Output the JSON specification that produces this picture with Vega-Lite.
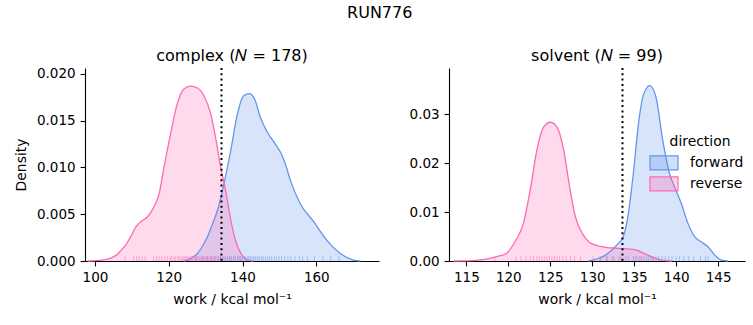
{
  "$schema": "https://vega.github.io/schema/vega-lite/v6.json",
  "padding": {"left": 14, "top": 4, "right": 5, "bottom": 5},
  "title": {"text": "RUN776", "anchor": "middle", "fontSize": 16, "fontWeight": "normal", "font": "DejaVu Sans", "color": "black", "offset": 27},
  "datasets": {
    "kde_complex": [
      {"dir": "forward", "w": 124, "d": 0},
      {"dir": "forward", "w": 125, "d": 0.0001},
      {"dir": "forward", "w": 126.5, "d": 0.0004},
      {"dir": "forward", "w": 127.8, "d": 0.0008},
      {"dir": "forward", "w": 129, "d": 0.0015},
      {"dir": "forward", "w": 130.5, "d": 0.0026},
      {"dir": "forward", "w": 132, "d": 0.0041},
      {"dir": "forward", "w": 133.2, "d": 0.0054},
      {"dir": "forward", "w": 135, "d": 0.0083},
      {"dir": "forward", "w": 136.8, "d": 0.0118},
      {"dir": "forward", "w": 138.6, "d": 0.0157},
      {"dir": "forward", "w": 140.4, "d": 0.0177},
      {"dir": "forward", "w": 141.9, "d": 0.0179},
      {"dir": "forward", "w": 143.3, "d": 0.0173},
      {"dir": "forward", "w": 144.9, "d": 0.0153},
      {"dir": "forward", "w": 146.7, "d": 0.0138},
      {"dir": "forward", "w": 148.9, "d": 0.0125},
      {"dir": "forward", "w": 150.7, "d": 0.0113},
      {"dir": "forward", "w": 152, "d": 0.0099},
      {"dir": "forward", "w": 153, "d": 0.0086},
      {"dir": "forward", "w": 155.7, "d": 0.0061},
      {"dir": "forward", "w": 159.3, "d": 0.0042},
      {"dir": "forward", "w": 162.9, "d": 0.0022},
      {"dir": "forward", "w": 166.5, "d": 0.0008},
      {"dir": "forward", "w": 170.1, "d": 0.0001},
      {"dir": "forward", "w": 172, "d": 0},
      {"dir": "reverse", "w": 98, "d": 0},
      {"dir": "reverse", "w": 100.3, "d": 0.00005},
      {"dir": "reverse", "w": 102, "d": 0.0001},
      {"dir": "reverse", "w": 104.3, "d": 0.0003},
      {"dir": "reverse", "w": 106, "d": 0.0007},
      {"dir": "reverse", "w": 107, "d": 0.0011},
      {"dir": "reverse", "w": 108.5, "d": 0.0018},
      {"dir": "reverse", "w": 109.7, "d": 0.0026},
      {"dir": "reverse", "w": 111, "d": 0.0036},
      {"dir": "reverse", "w": 112.4, "d": 0.0042},
      {"dir": "reverse", "w": 114.2, "d": 0.0047},
      {"dir": "reverse", "w": 116, "d": 0.0058},
      {"dir": "reverse", "w": 117.4, "d": 0.0072},
      {"dir": "reverse", "w": 118.7, "d": 0.01},
      {"dir": "reverse", "w": 120.5, "d": 0.0136},
      {"dir": "reverse", "w": 122.3, "d": 0.0168},
      {"dir": "reverse", "w": 124.1, "d": 0.0184},
      {"dir": "reverse", "w": 125.9, "d": 0.0187},
      {"dir": "reverse", "w": 127.8, "d": 0.0185},
      {"dir": "reverse", "w": 129.5, "d": 0.0177},
      {"dir": "reverse", "w": 131.4, "d": 0.0157},
      {"dir": "reverse", "w": 132.7, "d": 0.0132},
      {"dir": "reverse", "w": 134.1, "d": 0.01},
      {"dir": "reverse", "w": 135.4, "d": 0.0076},
      {"dir": "reverse", "w": 136.8, "d": 0.0044},
      {"dir": "reverse", "w": 138.1, "d": 0.0022},
      {"dir": "reverse", "w": 139.9, "d": 0.0006},
      {"dir": "reverse", "w": 141.5, "d": 0.0001},
      {"dir": "reverse", "w": 143, "d": 0}
    ],
    "kde_solvent": [
      {"dir": "forward", "w": 129.5, "d": 0},
      {"dir": "forward", "w": 130.5, "d": 0.0004},
      {"dir": "forward", "w": 131.5, "d": 0.0011},
      {"dir": "forward", "w": 132.3, "d": 0.0022},
      {"dir": "forward", "w": 133, "d": 0.0034},
      {"dir": "forward", "w": 133.7, "d": 0.005},
      {"dir": "forward", "w": 134.3, "d": 0.0097},
      {"dir": "forward", "w": 134.9, "d": 0.018},
      {"dir": "forward", "w": 135.5, "d": 0.028},
      {"dir": "forward", "w": 136.1, "d": 0.034},
      {"dir": "forward", "w": 136.85, "d": 0.0359},
      {"dir": "forward", "w": 137.6, "d": 0.0335},
      {"dir": "forward", "w": 138.4, "d": 0.0247},
      {"dir": "forward", "w": 139.2, "d": 0.0179},
      {"dir": "forward", "w": 139.8, "d": 0.0152},
      {"dir": "forward", "w": 140.6, "d": 0.0118},
      {"dir": "forward", "w": 141.4, "d": 0.0077},
      {"dir": "forward", "w": 142.2, "d": 0.005},
      {"dir": "forward", "w": 143, "d": 0.0039},
      {"dir": "forward", "w": 143.8, "d": 0.0029},
      {"dir": "forward", "w": 144.6, "d": 0.0012},
      {"dir": "forward", "w": 145.4, "d": 0.0002},
      {"dir": "forward", "w": 146.2, "d": 0},
      {"dir": "reverse", "w": 113.5, "d": 0},
      {"dir": "reverse", "w": 115, "d": 0.00003},
      {"dir": "reverse", "w": 117.2, "d": 0.00035},
      {"dir": "reverse", "w": 118.6, "d": 0.0009},
      {"dir": "reverse", "w": 119.8, "d": 0.0016},
      {"dir": "reverse", "w": 120.9, "d": 0.0043},
      {"dir": "reverse", "w": 121.8, "d": 0.0077},
      {"dir": "reverse", "w": 122.6, "d": 0.0145},
      {"dir": "reverse", "w": 123.4, "d": 0.0227},
      {"dir": "reverse", "w": 124.2, "d": 0.0274},
      {"dir": "reverse", "w": 125.0, "d": 0.0284},
      {"dir": "reverse", "w": 125.8, "d": 0.0274},
      {"dir": "reverse", "w": 126.6, "d": 0.0227},
      {"dir": "reverse", "w": 127.3, "d": 0.0152},
      {"dir": "reverse", "w": 128.0, "d": 0.009},
      {"dir": "reverse", "w": 128.8, "d": 0.0057},
      {"dir": "reverse", "w": 129.6, "d": 0.0039},
      {"dir": "reverse", "w": 130.5, "d": 0.0032},
      {"dir": "reverse", "w": 131.6, "d": 0.0028},
      {"dir": "reverse", "w": 133.1, "d": 0.0026},
      {"dir": "reverse", "w": 135.1, "d": 0.0023},
      {"dir": "reverse", "w": 136.6, "d": 0.0012},
      {"dir": "reverse", "w": 138.2, "d": 0.0002},
      {"dir": "reverse", "w": 139.5, "d": 0}
    ],
    "rug_complex": [
      {"dir": "reverse", "w": 108.2}, {"dir": "reverse", "w": 110.5}, {"dir": "reverse", "w": 111.3}, {"dir": "reverse", "w": 112.0},
      {"dir": "reverse", "w": 112.8}, {"dir": "reverse", "w": 113.6}, {"dir": "reverse", "w": 115.9}, {"dir": "reverse", "w": 116.7},
      {"dir": "reverse", "w": 117.4}, {"dir": "reverse", "w": 118.1}, {"dir": "reverse", "w": 118.9}, {"dir": "reverse", "w": 119.6},
      {"dir": "reverse", "w": 120.3}, {"dir": "reverse", "w": 120.8}, {"dir": "reverse", "w": 121.4}, {"dir": "reverse", "w": 121.9},
      {"dir": "reverse", "w": 122.5}, {"dir": "reverse", "w": 122.9}, {"dir": "reverse", "w": 123.4}, {"dir": "reverse", "w": 123.8},
      {"dir": "reverse", "w": 124.2}, {"dir": "reverse", "w": 124.6}, {"dir": "reverse", "w": 125.0}, {"dir": "reverse", "w": 125.3},
      {"dir": "reverse", "w": 125.7}, {"dir": "reverse", "w": 126.1}, {"dir": "reverse", "w": 126.4}, {"dir": "reverse", "w": 126.8},
      {"dir": "reverse", "w": 127.2}, {"dir": "reverse", "w": 127.5}, {"dir": "reverse", "w": 127.9}, {"dir": "reverse", "w": 128.3},
      {"dir": "reverse", "w": 128.6}, {"dir": "reverse", "w": 129.0}, {"dir": "reverse", "w": 129.4}, {"dir": "reverse", "w": 129.8},
      {"dir": "reverse", "w": 130.1}, {"dir": "reverse", "w": 130.5}, {"dir": "reverse", "w": 130.9}, {"dir": "reverse", "w": 131.3},
      {"dir": "reverse", "w": 131.7}, {"dir": "reverse", "w": 132.2}, {"dir": "reverse", "w": 132.6}, {"dir": "reverse", "w": 133.1},
      {"dir": "reverse", "w": 133.5}, {"dir": "reverse", "w": 134.0}, {"dir": "reverse", "w": 134.6}, {"dir": "reverse", "w": 135.2},
      {"dir": "reverse", "w": 135.9}, {"dir": "reverse", "w": 136.7}, {"dir": "reverse", "w": 137.6}, {"dir": "reverse", "w": 139.3},
      {"dir": "forward", "w": 127.5}, {"dir": "forward", "w": 129.2}, {"dir": "forward", "w": 130.4}, {"dir": "forward", "w": 131.6},
      {"dir": "forward", "w": 132.5}, {"dir": "forward", "w": 133.4}, {"dir": "forward", "w": 134.1}, {"dir": "forward", "w": 134.8},
      {"dir": "forward", "w": 135.4}, {"dir": "forward", "w": 136.0}, {"dir": "forward", "w": 136.5}, {"dir": "forward", "w": 137.0},
      {"dir": "forward", "w": 137.6}, {"dir": "forward", "w": 138.1}, {"dir": "forward", "w": 138.6}, {"dir": "forward", "w": 139.0},
      {"dir": "forward", "w": 139.5}, {"dir": "forward", "w": 139.9}, {"dir": "forward", "w": 140.4}, {"dir": "forward", "w": 140.8},
      {"dir": "forward", "w": 141.3}, {"dir": "forward", "w": 141.7}, {"dir": "forward", "w": 142.1}, {"dir": "forward", "w": 142.6},
      {"dir": "forward", "w": 143.0}, {"dir": "forward", "w": 143.5}, {"dir": "forward", "w": 144.0}, {"dir": "forward", "w": 144.5},
      {"dir": "forward", "w": 145.1}, {"dir": "forward", "w": 145.6}, {"dir": "forward", "w": 146.2}, {"dir": "forward", "w": 146.8},
      {"dir": "forward", "w": 147.3}, {"dir": "forward", "w": 147.9}, {"dir": "forward", "w": 148.6}, {"dir": "forward", "w": 149.2},
      {"dir": "forward", "w": 149.9}, {"dir": "forward", "w": 150.6}, {"dir": "forward", "w": 151.4}, {"dir": "forward", "w": 152.3},
      {"dir": "forward", "w": 153.1}, {"dir": "forward", "w": 154.2}, {"dir": "forward", "w": 155.4}, {"dir": "forward", "w": 156.3},
      {"dir": "forward", "w": 157.6}, {"dir": "forward", "w": 159.5}, {"dir": "forward", "w": 161.8}, {"dir": "forward", "w": 163.9},
      {"dir": "forward", "w": 166.1}
    ],
    "rug_solvent": [
      {"dir": "reverse", "w": 118.4}, {"dir": "reverse", "w": 120.9}, {"dir": "reverse", "w": 121.5}, {"dir": "reverse", "w": 122.1},
      {"dir": "reverse", "w": 122.6}, {"dir": "reverse", "w": 123.0}, {"dir": "reverse", "w": 123.4}, {"dir": "reverse", "w": 123.7},
      {"dir": "reverse", "w": 124.0}, {"dir": "reverse", "w": 124.3}, {"dir": "reverse", "w": 124.6}, {"dir": "reverse", "w": 124.9},
      {"dir": "reverse", "w": 125.2}, {"dir": "reverse", "w": 125.5}, {"dir": "reverse", "w": 125.8}, {"dir": "reverse", "w": 126.1},
      {"dir": "reverse", "w": 126.5}, {"dir": "reverse", "w": 126.9}, {"dir": "reverse", "w": 127.4}, {"dir": "reverse", "w": 127.9},
      {"dir": "reverse", "w": 128.6}, {"dir": "reverse", "w": 130.1}, {"dir": "reverse", "w": 130.9}, {"dir": "reverse", "w": 131.8},
      {"dir": "reverse", "w": 132.6}, {"dir": "reverse", "w": 133.4}, {"dir": "reverse", "w": 134.3}, {"dir": "reverse", "w": 135.1},
      {"dir": "reverse", "w": 135.8}, {"dir": "reverse", "w": 137.2},
      {"dir": "forward", "w": 131.0}, {"dir": "forward", "w": 131.7}, {"dir": "forward", "w": 132.4}, {"dir": "forward", "w": 133.2},
      {"dir": "forward", "w": 134.0}, {"dir": "forward", "w": 134.9}, {"dir": "forward", "w": 135.3}, {"dir": "forward", "w": 135.6},
      {"dir": "forward", "w": 135.9}, {"dir": "forward", "w": 136.2}, {"dir": "forward", "w": 136.5}, {"dir": "forward", "w": 136.7},
      {"dir": "forward", "w": 137.0}, {"dir": "forward", "w": 137.3}, {"dir": "forward", "w": 137.6}, {"dir": "forward", "w": 137.9},
      {"dir": "forward", "w": 138.3}, {"dir": "forward", "w": 138.7}, {"dir": "forward", "w": 139.1}, {"dir": "forward", "w": 139.5},
      {"dir": "forward", "w": 140.0}, {"dir": "forward", "w": 140.4}, {"dir": "forward", "w": 140.9}, {"dir": "forward", "w": 141.5},
      {"dir": "forward", "w": 142.1}, {"dir": "forward", "w": 142.9}, {"dir": "forward", "w": 143.5}, {"dir": "forward", "w": 143.8}
    ]
  },
  "hconcat": [
    {
      "width": 294,
      "height": 193,
      "title": {"text": "complex (𝑁 = 178)", "baseline": "alphabetic", "offset": -10},
      "encoding": {
        "x": {"field": "w", "type": "quantitative", "title": "work / kcal mol⁻¹",
              "scale": {"domain": [97.3, 177], "nice": false, "zero": false},
              "axis": {"values": [100, 120, 140, 160], "labelAngle": 0}},
        "color": {"field": "dir", "type": "nominal",
                  "scale": {"domain": ["forward", "reverse"], "range": ["#6495ed", "#ff69b4"]},
                  "legend": null}
      },
      "layer": [
        {"data": {"name": "kde_complex"},
         "mark": {"type": "area", "fillOpacity": 0.25, "interpolate": "monotone"},
         "encoding": {"y": {"field": "d", "type": "quantitative", "stack": null, "title": "Density",
                            "scale": {"domain": [0, 0.02064], "nice": false},
                            "axis": {"values": [0, 0.005, 0.01, 0.015, 0.02], "format": ".3f"}}}},
        {"data": {"name": "kde_complex"},
         "mark": {"type": "line", "strokeWidth": 1.3, "interpolate": "monotone"},
         "encoding": {"y": {"field": "d", "type": "quantitative", "stack": null, "title": "Density"}}},
        {"data": {"name": "rug_complex"},
         "mark": {"type": "rule", "strokeWidth": 1, "opacity": 0.5},
         "encoding": {"y": {"datum": 0, "type": "quantitative"}, "y2": {"datum": 0.00051}}},
        {"data": {"values": [{"w": 134.3}]},
         "mark": {"type": "rule", "strokeWidth": 2, "strokeDash": [2, 3.3], "color": "black"},
         "encoding": {"color": {"value": "black"}}}
      ]
    },
    {
      "width": 296,
      "height": 193,
      "title": {"text": "solvent (𝑁 = 99)", "baseline": "alphabetic", "offset": -10},
      "encoding": {
        "x": {"field": "w", "type": "quantitative", "title": "work / kcal mol⁻¹",
              "scale": {"domain": [112.93, 148.2], "nice": false, "zero": false},
              "axis": {"values": [115, 120, 125, 130, 135, 140, 145], "labelAngle": 0}},
        "color": {"field": "dir", "type": "nominal",
                  "scale": {"domain": ["forward", "reverse"], "range": ["#6495ed", "#ff69b4"]},
                  "legend": {"title": "direction", "orient": "none", "legendX": 207, "legendY": 67,
                             "titleAnchor": "middle", "titleFontSize": 13.9, "titleFontWeight": "normal",
                             "titleColor": "black", "titlePadding": 6,
                             "labelFontSize": 13.9, "labelColor": "black", "labelOffset": 18,
                             "symbolType": "M-2,-1H2V1H-2Z", "symbolSize": 196, "rowPadding": 1, "padding": 0,
                             "encode": {"symbols": {"update": {
                               "fill": [{"test": "datum.value === 'forward'", "value": "#6495ed"}, {"value": "#ff69b4"}],
                               "stroke": [{"test": "datum.value === 'forward'", "value": "#6495ed"}, {"value": "#ff69b4"}],
                               "fillOpacity": {"value": 0.3}, "strokeOpacity": {"value": 1}, "strokeWidth": {"value": 1.2}, "opacity": {"value": 1}}}}}}
      },
      "layer": [
        {"data": {"name": "kde_solvent"},
         "mark": {"type": "area", "fillOpacity": 0.25, "interpolate": "monotone"},
         "encoding": {"y": {"field": "d", "type": "quantitative", "stack": null, "title": null,
                            "scale": {"domain": [0, 0.0395], "nice": false},
                            "axis": {"values": [0, 0.01, 0.02, 0.03], "format": ".2f"}}}},
        {"data": {"name": "kde_solvent"},
         "mark": {"type": "line", "strokeWidth": 1.3, "interpolate": "monotone"},
         "encoding": {"y": {"field": "d", "type": "quantitative", "stack": null, "title": null}}},
        {"data": {"name": "rug_solvent"},
         "mark": {"type": "rule", "strokeWidth": 1, "opacity": 0.5},
         "encoding": {"y": {"datum": 0, "type": "quantitative"}, "y2": {"datum": 0.00098}}},
        {"data": {"values": [{"w": 133.6}]},
         "mark": {"type": "rule", "strokeWidth": 2, "strokeDash": [2, 3.3], "color": "black"},
         "encoding": {"color": {"value": "black"}}}
      ]
    }
  ],
  "spacing": 30,
  "resolve": {"scale": {"x": "independent", "y": "independent", "color": "independent"}, "legend": {"color": "independent"}},
  "config": {
    "font": "DejaVu Sans",
    "view": {"stroke": null},
    "title": {"fontSize": 16, "fontWeight": "normal", "font": "DejaVu Sans", "color": "black"},
    "axis": {"grid": false, "domainColor": "black", "tickColor": "black", "labelColor": "black", "titleColor": "black",
             "labelFont": "DejaVu Sans", "titleFont": "DejaVu Sans", "labelFontSize": 13.5, "titleFontSize": 13.9,
             "titleFontWeight": "normal", "tickSize": 4.9, "labelPadding": 5, "titlePadding": 8, "domainWidth": 1.1, "tickWidth": 1.1},
    "legend": {"labelFont": "DejaVu Sans", "titleFont": "DejaVu Sans"}
  }
}
